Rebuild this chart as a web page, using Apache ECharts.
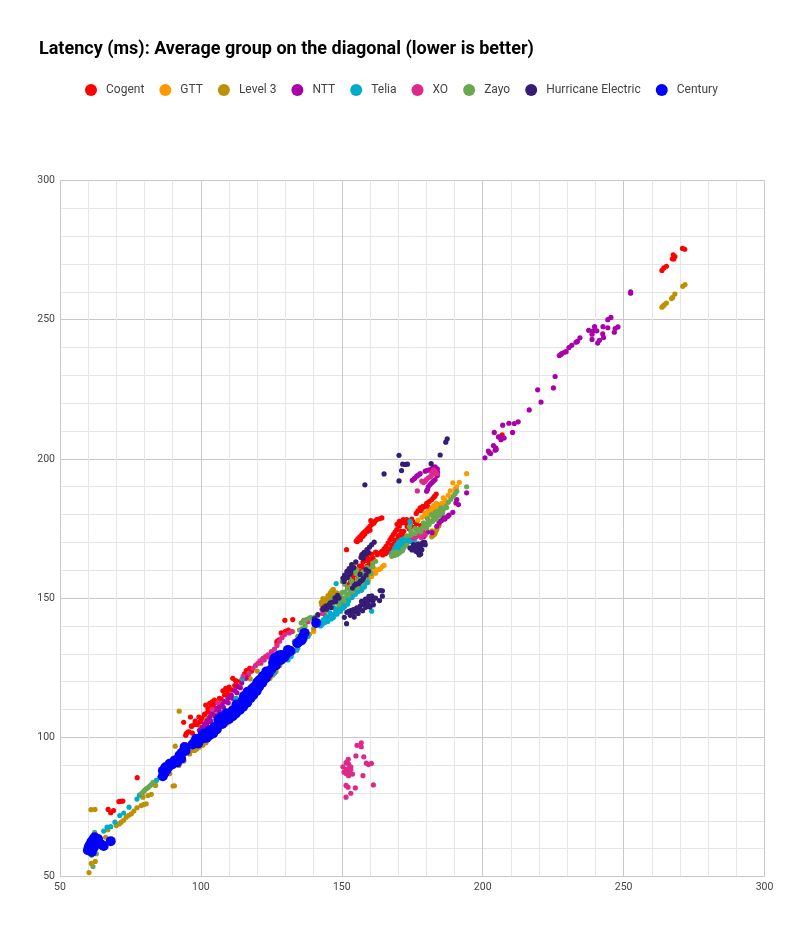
<!DOCTYPE html>
<html><head><meta charset="utf-8">
<style>html,body{margin:0;padding:0;background:#fff}#c{width:788px;height:943px}</style>
<script src="https://cdn.jsdelivr.net/npm/echarts@6/dist/echarts.min.js"></script>
</head><body><div id="c"></div>
<script>
const titleText = "Latency (ms): Average group on the diagonal (lower is better)";
const seriesNames = ["Cogent","GTT","Level 3","NTT","Telia","XO","Zayo","Hurricane Electric","Century"];
const seriesColors = ["#ff0000","#ff9900","#bf9000","#aa00aa","#00acc9","#dd2a8a","#6aa84f","#351c75","#0000ff"];
const axisMin = 50, axisMax = 300, axisStep = 50;

const cogent = [[67.1,74.1],[68,72.9],[69,73.7],[70.9,76.9],[72.3,77.1],[71.6,77],[77.4,85.5],
[93.9,105.4],[94.6,100.7],[95.4,101.9],[96.3,107.3],[96.8,104],[97.8,104.7],[96.6,104],[98.1,104.6],[94.8,101.3],[95.8,102],[97,101.5],[99.3,107.3],[101.3,108],[101.3,108.3],[100.5,106.8],
[101.7,111.6],[103.1,112.2],[103.7,111],[104,112.7],[104.8,113.4],[105.5,112.5],[106.6,114],[107.8,116.7],[108.4,115.2],[109.5,115.5],[110.8,117],[111.3,121.2],[112.3,120.4],[113.4,118.3],[115.5,122.8],[116.1,124],[117.3,124.8],[116.8,122.5],[114.6,120.8],
[98,105.8],[99.8,105.7],[102.5,110.3],[102.3,109],[104.4,111.2],[106,112.4],[107.2,113.7],[108.8,117.6],[109.2,117],[112,118.6],[114,119.5],[115.2,121.3],[118,123.8],[101,103],[103,105.6],[100,103],[103.6,108.8],[110,118],[113,120],[99,104.5],
[127,133.9],[127.7,135],[128.5,137.5],[130,138.1],[129.8,142],[132.6,142.3],[131,138.5],[127,134.5],
[151.8,154.8],[153,155.8],[154.1,156.6],[155.3,158.3],[156.5,159.6],[157.7,160.5],[158.9,161.4],[159.8,162],[160.6,163.2],[158.9,165],[160,164],[157.5,163],[156.2,161.5],[155,159.2],[152.8,157],[154,158],[159,163.4],[161,164.5],[157,161.5],[158.5,163.5],[160.5,165.8],[162,166.5],[155.5,160],[157,158.5],[158,159.5],[159.5,160.4],[161.5,163.5],[156,157.5],[154,155.2],
[151.7,167.4],[155.1,170.5],[155.7,171.3],[156.4,172],[157.1,172.8],[157.7,173.4],[158.3,174],[158.9,174.6],[159.5,175.2],[160,175.8],[160.6,176.4],[160.3,177.8],[161.3,176.9],[162.4,178.2],[163.3,178.5],[164.2,178.8],[155.5,170.3],[156.6,171],[157.5,172.2],[158.2,173],[159.2,174],[160,174.4],[161.8,177.6],
[162.6,165.6],[163.4,166.2],[164.2,166.8],[165,167.7],[165.7,168.6],[166.4,169.8],[167.1,171],[167.7,171.9],[168.3,172.8],[168.9,173.7],[169.5,174.6],[170.4,175.8],[171.3,177],[172.2,177.6],[173,178.2],[174.8,178.4],[166,166.5],[167.3,167.6],[168.6,169.5],[169.7,171],[170.8,172.5],[172,174],[173.2,175.7],[174.3,176.3],[171,174],[175.2,177.5],[176.5,176.7],[178,176],[164.5,165.5],[165.6,166],[166.6,167.5],[167.7,169],[168.8,170.8],[170,172.4],[171.6,173],[172.8,177],[170.4,177.6],[171.8,178.2],[169.6,176.5],[174,174.8],[175.8,175.5],
[177.8,182.4],[177,181.3],[178.8,183],[179.2,182.7],[180.1,184],[181,184.7],[181.9,185.4],[182.6,186.2],[183.5,187.4],[183,186.6],[176.4,180.4],[178.2,181.5],[180.5,183],
[206.9,208.6],[263.6,267.7],[264.3,268.6],[265.2,269.2],[267.3,271.9],[267.6,273.3],[268.2,272.7],[267.8,271.8],[270.9,275.6],[271.7,275.3]];

const gtt = [[194.3,194.7],[189.4,191.4],[191.7,191.6],[190.2,189.2],[190.8,190],[187.8,186.9],[186.6,184.4],[185.5,184],[184.2,183.6],[182.6,183.2],[181.8,182.2],[180.7,181.2],[179.9,179.3],[181,179.8],[182.5,181],[184.5,182],[183,182.4],[185,183.2],[186.7,185.2],[180.4,180],[177,178],[178.5,179],[183.5,184],[186,186],[188.5,188.5],[179.5,180.5],
[164.5,161.4],[163,160.2],[161.8,160.2],[160.6,157.8],[162,158.9],[159.5,156.6],[158,155],[156,153.5],[154,151.5],[152,149.5],[150,147.3],[148,145.5],[146,143.5],[144.5,142],[142.5,140.5],[140,138],[161,159],[163.7,160.5],[159,157.3],[157,154.2],[165,161.8],[160,158.4],[157.5,156.2],[155,154.2],
[130,128.5],[124,122.3],[118,116],[112,109.8],[106,103.5],[100,98]];

const level3 = [[60.3,51.4],[61.1,54.7],[62.5,55.4],[61,74],[62.4,74.1],[66.2,64.1],[67,66.8],[70,68.3],[71,68.9],[71.7,69.5],[72.6,70.2],[73.5,71.3],[74.4,72],[75.3,72.5],[76.2,73.5],[77.3,74.7],[78.8,75.5],[79.6,75.8],[80.6,76.1],[79.4,78.5],[81.2,79.1],[82.4,79.5],[83.9,82.7],[90.1,82.5],[90.6,82.6],[88.9,86.9],[92.2,89.9],[90.9,96.8],[92.3,109.4],[94,91.5],[96,94],[97.2,95.3],[97.8,95.3],[99.5,96.5],[100.7,97.1],[103,99.6],[105.5,102.2],[107.8,104.9],[110,105.5],[112.5,108],[115,111],[117.3,112.8],[120,116],[122.9,120.6],[124.5,121.2],[126.7,123.6],[128,125.8],[129.7,127.8],[132,129.6],[134.4,132],[132.6,138],[136,134],[98.5,95.8],[101.8,98],[104.5,100.6],[106.5,102.8],[109,104.8],[111.2,107],[113.8,109.7],[116,111.5],[118.8,114.7],[121.5,118],[125.5,122.3],[131,128.7],[133,130.8],[100,103.5],[102,106.5],[104,107.7],[106,108.5],[114,119],[117.5,121],[120,123.8],[135,133.6],[137,135.2],[138.5,137],
[142.7,148.5],[142.9,147.5],[143.6,148.5],[144.3,149.7],[145.1,150.9],[145.9,151.9],[146.5,152.7],[147,153.1],[148.2,151.9],[144,145],[146,147],[150,150],[155,153.7],[158,156.4],[144.6,148.8],[145.4,149.8],[146.3,150.5],[147.4,151.6],[143.3,149.8],[140,139],[141.5,141],[152,151],[145,148.4],[146,149.4],[147.5,149.8],[148.5,150],[149,149],[151,149.4],[153,151],[156,154.4],[159,157],
[181.9,172],[182.5,172.6],[183.3,173.8],[183.7,174.6],[183.9,175.5],[183,173],[182,174.2],[184.5,176],[263.6,254.5],[264,254.9],[264.4,255.3],[265.2,256],[267,257.6],[267.4,258],[268.2,259.2],[271,262],[271.8,262.6]];

const ntt = [[99.5,102.5],[100.4,103.6],[101.3,104.9],[102.2,106],[103.1,107.3],[104,108.6],[104.8,109.8],[105.7,110.4],[106.6,111],[107.5,111.8],[108.4,112.8],[109.6,114],[110.8,115.2],[112,116.8],[113.1,118.2],[114.5,119.6],[116,121.2],[100.5,102.5],[102,104.4],[103.5,105.8],[105,107.8],[106.5,109.4],[108,110.8],[109.7,112.4],[111.2,114],[112.8,116],[114,117.8],
[175,192.3],[175.8,193],[176.6,193.8],[177.2,194.2],[177.8,194.7],[179.6,195.6],[180.4,195.9],[181.3,196.2],[183.1,197.1],[183.9,196.4],[183.9,194],[183.1,192.6],[182.5,192],[181.9,191.4],[181.3,190.8],[180.7,190],[180.1,188.4],[180.4,189],[182.8,195.8],[184,195.2],[182.4,197],
[194.3,187.8],[191.4,183.6],[190.8,185.4],[190.5,184.2],[189.4,180.8],[187.5,179.3],[186.6,178.4],[185.4,177.9],[184.5,177],[183.7,175.8],[182,173.5],[180.5,173.7],[179,172],[188,179.8],[186,178.9],[185,177.6],
[200.8,200.4],[202,202.8],[202.8,201.9],[202.4,202.2],[203.8,204.8],[204.6,204],[204.4,203.1],[204.8,203.4],[204.1,209.5],[205.6,207.9],[206.5,206.9],[206.2,207.8],[207.6,207.5],[207.1,212.1],[209.3,212.8],[211.2,212.7],[212.6,213.3],[210.6,209.5],[216.5,217.6],[220.7,220.4],[219.5,224.8],[225.1,225.5],[225.7,229.6],[227.2,237.1],[227.7,237.5],[228,237.8],[229,238.3],[229.6,238.5],[230.6,240],[231.6,240.8],[233.1,241.9],[233.6,242.2],[234.5,243.5],[237.6,246.2],[239.1,245.9],[240.5,246],[239.7,247.5],[238.8,244.8],[238.8,242.9],[242.7,247.5],[244.4,247.1],[244.4,250],[245.5,250.8],[242.6,244.9],[242.9,243.6],[241.4,242.6],[240.8,241.6],[246.7,245.5],[247,246.8],[248,247.4],[252.5,260],[252.5,259.5]];

const telia = [[65.5,66.3],[66.7,67.7],[68,67.9],[69.5,69.5],[71.2,71.9],[72.6,72.8],[74.5,74.9],[77.3,77.8],[78.2,79.2],[85.3,85.5],[84.2,84.5],
[112.5,114],[114.7,121],[126.1,123],[130.9,127.8],[132,129],[134,131.3],[136,134.5],[138,136.2],
[143.3,141.7],[143.5,142.3],[144.4,142.3],[145.5,143.2],[146.8,144.1],[148,145.3],[149.2,146.5],[150.2,148],[151.8,149.5],[153,151.9],[154.2,152.2],[155.3,153],[156.5,153.8],[157.7,154.8],[145,141.6],[147,143],[149.5,145.3],[152,147.8],[148,155.2],[160.6,145.3],[144.2,143.6],[145.8,144.7],[147.5,146.3],[149,147.8],[150.8,149.3],[152.5,150.4],[154,151],[155.8,152.4],[157.2,153.4],[158.6,155.4],[143,140.5],[146.2,142.5],[148.3,144.2],[150.5,146.4],[151,147],[144,141.2],[145.2,142.2],[146.4,143.4],[147.6,144.4],[148.8,145.4],[150,146.8],[151.2,147.6],[152.4,149],[153.6,150.2],[154.8,151.4],[156,152.6],[157,152.8],[158,154],[159.2,155.6],[142.5,140],
[167.6,166.1],[168.3,166.8],[169,167.3],[169.5,168],[170.7,169.2],[171.5,169.8],[172.2,170.4],[173,171],[174.2,171.6],[175.4,172.2],[174.2,177.6],[174.4,176.8],[168.8,168],[169.4,169],[170.2,170.2],[171.2,171],[172.2,171.4],[173.2,172],[174.5,172.6],[169,165.9],[170.2,167.3],[171.6,168.4],[172.8,169.6],[174,170.3],[175.8,170.8],[168,165.4],[170,168],[172,169],[173.8,170.6],[175,171],[176,171.6]];

const xo = [[120.2,126.6],[121,127.5],[122,128.4],[122.9,129],[123.8,129.6],[125,130.8],[126.1,131.7],[127,133],[127.9,134.5],[128.8,135.8],[129.7,136.9],[131.4,137.5],[132.2,138],[104,110],[106,112.5],[115,122],[117,123],[121.3,126.6],[122.5,127.8],[124,128.8],[125.5,130],[118.5,124.8],[119.4,125.8],
[136.5,142],[138,141.5],[140,142.6],[144,147],[143,146],[141.5,143.8],[143.2,144.5],
[156.9,98],[155.4,97.1],[156.9,96.6],[155,93.3],[157.8,93],[152.3,92.1],[151.5,90.9],[158.7,90.7],[159.5,90.2],[160.5,90.6],[152.4,90.4],[150.4,89.4],[153.2,89.4],[151.5,88.4],[152.4,88.8],[153.2,88.4],[150.8,87.5],[151.5,87],[152.3,87.1],[153.8,86.8],[152.4,86.2],[157.5,86.2],[151.5,82.7],[152.2,82.1],[154.8,81.8],[161.2,82.9],[153.2,79.9],[151.5,78.5],
[176.8,188.5],[178.4,192],[179.6,192],[180.7,193.2],[181.9,195],[183.1,195.6],[182.5,196],[179,191.5],[181.5,193.7],[180,192.6],[182.4,194.5],[183.7,194.7],
[177.8,173.4],[176.6,172.2],[175.4,171.6],[178.8,174],[179.6,172.7],[177,174.5],[178.2,171.8],[179,173]];

const zayo = [[61.7,53.6],[62.9,58.2],[61.2,57.6],[62.3,65.9],[78.8,79.7],[79.4,80.2],[80,80.9],[80.6,81.5],[81.2,81.9],[81.8,82.5],[82.4,83],[83,83.8],
[133.2,134.5],[134.4,136.3],[135,138.5],[135.6,141.1],[136.5,141.8],[137.4,142.3],[138.5,142.8],[136,139],[137,140],[139,143],[140.5,143.2],
[145,146.8],[147,148],[148.8,149],[150.6,150],[151.8,151.3],[153,152.5],[154.2,153.8],[155.5,155],[156.8,156.3],[158.3,157.8],[159.2,159],[160,160.2],[161,161.4],[152,153.5],[153.5,156],[154.7,162.6],[154,160],[155.3,160.2],[150.2,156],[148,148.8],[149.5,150.5],[151,152.2],[152.5,153.8],[154,155],[155.5,156.5],[157,157.8],[158.8,159.6],[149,147.6],[150.8,149],[152.4,150.8],[154,152.4],[155.6,153.8],[157.2,155.2],[159,157.4],[160.4,158.8],[151,155],[152.6,157],[153.6,160],[155,158.8],[147,150],[146,149],[144.5,146],[150,152],[156,158],[157.5,159.4],[159,161],[161,162.6],[162,163.2],
[167.7,165],[168.6,165.3],[169.5,165.6],[170.1,166],[170.7,166.5],[171.5,167],[174,175.6],[168.2,166.2],[169,166.6],[172,168],[173,169],
[174.5,172.6],[176,173.2],[178,173.8],[180.1,175.2],[181,176.4],[181.9,177.6],[182.8,178.6],[183.7,179.6],[184.8,180.7],[186,181.8],[186.9,183],[187.8,184.4],[188.7,185.5],[189.6,186.6],[190.2,187.5],[190.8,188.4],[194.3,190],[180.5,177],[182.5,179.2],[184,181.2],[185.2,182.4],[187.2,182.5],[179.5,176],[181,177.8],[182.3,177.6],[183.5,178.4],[184.6,179.5],[185.8,180.6],[179,177],[180.4,178.6],[181.8,180],[183.2,180.8],[178.5,175.2],[177,174.6],[176,175],[174.5,174],[173,172.4]];

const hurricane = [[141.5,144.1],[143.3,145.9],[143.5,146.5],[144.5,147.2],[145.6,147.7],[145.9,148.3],[146.8,148.6],[147.6,150.1],[148.5,151],[144.6,146],[146.2,146.6],[147.8,148.8],[149,150],[140.3,142.6],
[150.4,157.2],[151,158.3],[151.8,159.6],[152.6,160.6],[153.5,162],[150.8,156],[152,157.4],[153.2,159.2],[154.3,161],[155,163],[157.1,165.6],[157.9,166.4],[158.9,167.4],[159.8,168.3],[160.6,169.2],[161.5,170.1],[157.6,164.3],[151,156.9],[152.8,158.6],[153.8,160.6],[156.8,164.6],[158.4,165.8],[159.4,166.4],
[153.8,153.6],[155,155],[156.5,156],[157.7,157.2],[158.6,158.3],[159.5,159.6],[158.6,160.2],[156.5,158.5],[154.5,154.6],[156,155.2],[157.2,156.4],
[150.9,143.1],[151.7,140.8],[151.8,144.9],[152.5,145.2],[153.2,145.5],[154.1,145.9],[154.4,143.2],[155.3,146.5],[156.5,147.1],[157.2,147.7],[158,148.2],[158.9,148.3],[159.6,149.2],[160.4,149.5],[161.2,150.1],[163.6,152.7],[164.4,152.6],[164.4,150.7],[163.4,149.1],[155,145],[156.2,146],[157.4,145.5],[158.5,146.7],[159.8,147.3],[153,143.8],[161,148.9],[162,150],[154,144.8],[155.8,144.5],[157,148.8],[158.4,149.6],[159.6,150.6],[160.6,150.8],[160,146.8],[161.2,147.6],
[174.2,168],[175.4,169.2],[175.8,167.5],[176.6,168],[176.8,166.8],[177.2,166.2],[177.5,165.5],[178,168.6],[178.7,169.9],[179.6,169.2],[177.2,169.5],[175,168.2],[176,169],[177.4,167.6],[176.3,166.8],[178.4,167.4],[174.9,167.3],[179.4,170],[178,165.8],
[187.4,207.2],[186.9,206],[170.3,201.3],[184.9,201.4],[181.7,198.3],[171.6,198.1],[173.3,198.1],[172.6,198],[171.2,195.8],[165,194.6],[170.3,192.1],[158.2,190.7]];

const century = [[59.9,59.4],[60.2,60.5],[60.5,61.2],[60.8,60.2],[61.1,62.4],[61.5,61.2],[61.8,63.4],[62.3,64.1],[62.6,62.6],[63.5,63.5],[64.7,61.5],[65.5,61],[68,62.7],[61.3,58.8],[62,60.4],[63,62],
[86.5,86],[86.5,88],[87.7,88.1],[87,87],[87.4,89.2],[88.2,89],[88.9,89.9],[88.9,90.5],[89.8,90.2],[90.7,91.7],[91.6,91],[92.4,93.5],[93,92.3],[93.6,94.7],[94.2,96.5],[94.6,95.2],[93.2,94.4],[97,97.4],[97.8,98.3],[98.3,99.5],[99,97.8],[99.6,99.2],[100.7,101.3],[100.4,99.5],[101.9,101.3],[102,99.8],[103,102.4],[103.2,100.8],[104.3,103.1],[104.8,103.7],[104.4,101.5],[105.6,102.8],[106.6,104.9],[107.2,107.3],[106.2,106.4],[107.6,104.8],[109,107.3],[108.4,105.8],[109,108.6],[110.4,108.5],[110,106.6],[111.3,109.7],[111.9,109.8],[111.3,107.6],[112.4,108.6],[113.1,110.4],[113.7,111.5],[112.6,111.8],[113.8,109.8],[114.9,113.4],[115,111],[116,113.9],[115.3,114.8],[116.4,112.4],[117.3,115.8],[117.6,114],[116.6,116.4],[118.6,115.2],[119,118.2],[118.2,117.4],[119.8,116.6],[120.8,120.6],[120.6,118.2],[120,119.8],[122,122],[121.8,119.6],[123.2,123.6],[123,121.2],[124,122.8],[125,124.4],[126.1,128.4],[125.6,126.8],[126.6,125.8],[127,127.6],[127.6,129.4],[128.5,129.6],[128.4,127.8],[129.6,128.8],[130.9,131.4],[130.4,130],[131.8,131],[135,134.5],[134.2,133.8],[135.8,135],[136.8,137.5],[136.2,136.2],[140.9,141.1]];

const allData = [cogent,gtt,level3,ntt,telia,xo,zayo,hurricane,century];

const chart = echarts.init(document.getElementById('c'), null, {renderer:'canvas'});
const font = 'Roboto';
chart.setOption({
  animation:false,
  backgroundColor:'#fff',
  textStyle:{fontFamily:font},
  title:{text:titleText,left:34,top:35,textStyle:{fontFamily:font,fontSize:18,fontWeight:'bold',color:'#000'}},
  legend:{left:80,top:79,itemWidth:12,itemHeight:12,itemGap:15,icon:'circle',
    data:seriesNames,textStyle:{fontFamily:font,fontSize:12,color:'#444',padding:[0,0,0,4]}},
  grid:{left:60,right:23.5,top:180.5,bottom:66.5,show:false},
  xAxis:{type:'value',min:axisMin,max:axisMax,interval:axisStep,
    axisLine:{show:false},axisTick:{show:false},
    axisLabel:{fontSize:10.5,color:'#444',margin:5,fontFamily:font},
    splitLine:{show:true,lineStyle:{color:'#c8c8c8',width:1}},
    minorTick:{show:false,splitNumber:5},
    minorSplitLine:{show:true,lineStyle:{color:'#e6e6e6',width:1}}},
  yAxis:{type:'value',min:axisMin,max:axisMax,interval:axisStep,
    axisLine:{show:false},axisTick:{show:false},
    axisLabel:{fontSize:10.5,color:'#444',margin:5,fontFamily:font,padding:[2,0,0,0]},
    splitLine:{show:true,lineStyle:{color:'#c8c8c8',width:1}},
    minorTick:{show:false,splitNumber:5},
    minorSplitLine:{show:true,lineStyle:{color:'#e6e6e6',width:1}}},
  series:seriesNames.map((n,i)=>({
    name:n,type:'scatter',data:allData[i],symbol:'circle',
    symbolSize:i===8?10:5.2,
    itemStyle:{color:seriesColors[i],opacity:1},
    z:2+i,silent:true
  }))
});
</script></body></html>
